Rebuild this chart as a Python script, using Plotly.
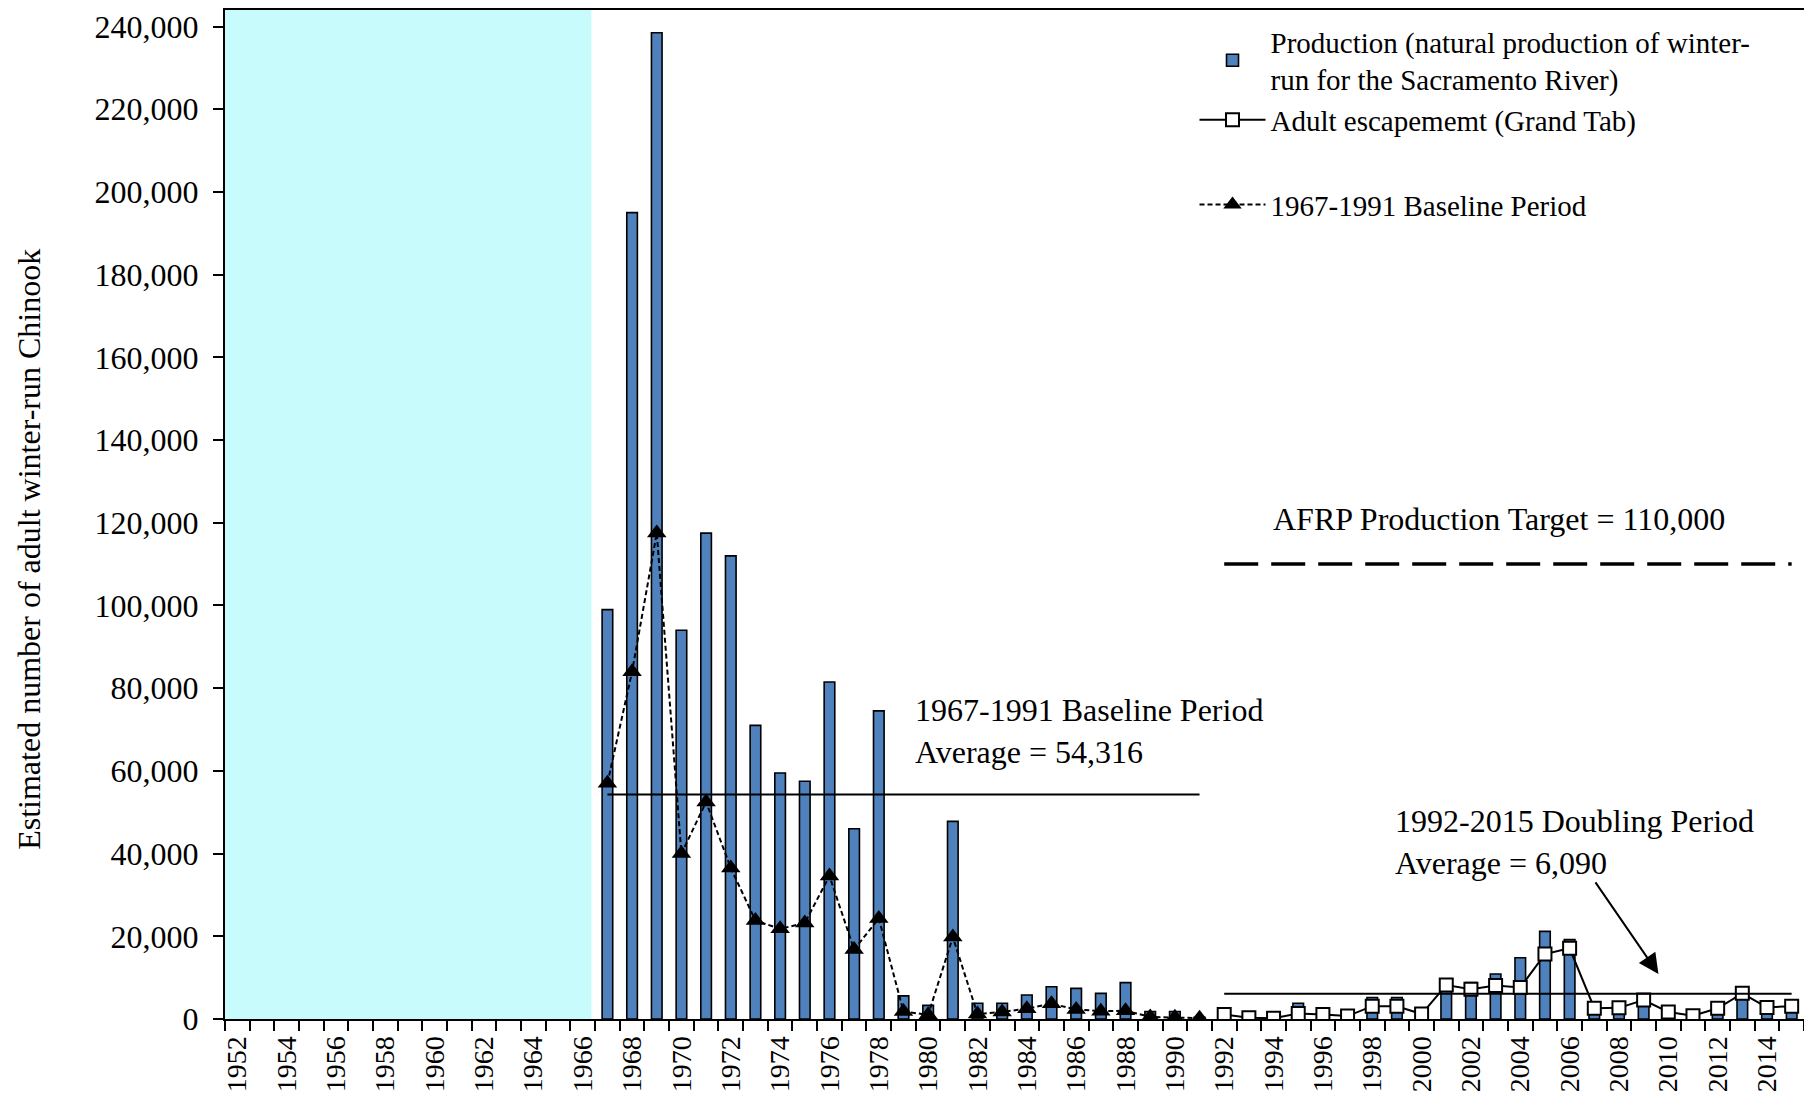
import plotly.graph_objects as go

# ---------------- data ----------------
years = list(range(1952, 2016))
cats = [str(y) for y in years]

prod_years = list(range(1967, 2016))
production = [99000, 195000, 238500, 94000, 117500, 112000, 71000, 59500, 57500, 81500,
              46000, 74500, 5600, 3300, 47800, 3800, 3800, 5800, 7800, 7400,
              6200, 8800, 1800, 1800, 400,
              2600, 400, 300, 3800, 1500, 1000, 5200, 5200, 1400, 9700,
              8800, 10900, 14800, 21200, 19200, 1800, 1600, 4200, 1700, 900,
              1800, 6700, 1600, 2000]

base_years = list(range(1967, 1992))
baseline_escape = [57000, 84000, 117500, 40000, 52500, 36500, 23800, 21800, 23200, 34600,
                   16800, 24300, 1800, 1000, 19800, 1200, 1700, 2500, 3700, 2300,
                   1900, 2000, 500, 400, 200]

dbl_years = list(range(1992, 2016))
adult_escape = [1100, 300, 200, 1300, 1100, 700, 3100, 3100, 1200, 8200,
                7200, 8100, 7600, 15700, 17100, 2600, 2700, 4600, 1700, 800,
                2600, 6200, 2800, 3100]

baseline_avg = 54316
doubling_avg = 6090
afrp_target = 110000
pre_years = list(range(1952, 1967))

FONT = "Liberation Serif, Times New Roman, serif"
FS = 29
FS_BIG = 32

fig = go.Figure()

fig.add_trace(go.Bar(
    x=[str(y) for y in prod_years], y=production,
    name="Production (natural production of winter-<br>run for the Sacramento River)",
    marker=dict(color="#4F81BD", line=dict(color="black", width=1.6)),
    legendgroup="a",
))
fig.add_trace(go.Scatter(
    x=[str(y) for y in dbl_years], y=adult_escape, mode="lines+markers",
    name="Adult escapememt (Grand Tab)",
    line=dict(color="black", width=2),
    marker=dict(symbol="square", size=13, color="white", line=dict(color="black", width=2)),
    legendgroup="a",
))
fig.add_trace(go.Scatter(
    x=[str(y) for y in base_years], y=baseline_escape, mode="lines+markers",
    name="1967-1991 Baseline Period",
    line=dict(color="black", width=2, dash="5px,3px"),
    marker=dict(symbol="triangle-up", size=17, color="black"),
    legendgroup="b",
))
# average lines and target
fig.add_trace(go.Scatter(
    x=[str(base_years[0]), str(base_years[-1])], y=[baseline_avg, baseline_avg],
    mode="lines", line=dict(color="black", width=2), showlegend=False, hoverinfo="skip"))
fig.add_trace(go.Scatter(
    x=[str(dbl_years[0]), str(dbl_years[-1])], y=[doubling_avg, doubling_avg],
    mode="lines", line=dict(color="black", width=2), showlegend=False, hoverinfo="skip"))
fig.add_trace(go.Scatter(
    x=[str(dbl_years[0]), str(dbl_years[-1])], y=[afrp_target, afrp_target],
    mode="lines", line=dict(color="black", width=3.5, dash="34px,13px"),
    showlegend=False, hoverinfo="skip"))

i0 = cats.index(str(pre_years[0]))
i1 = cats.index(str(pre_years[-1]))
fig.add_shape(type="rect", xref="x", yref="paper",
              x0=i0 - 0.5, x1=i1 + 0.35, y0=0, y1=1,
              fillcolor="#C8FCFC", line=dict(width=0), layer="below")

ann_font = dict(family=FONT, size=FS_BIG, color="black")
fig.add_annotation(x=27.4, y=69700, xref="x", yref="y", text="1967-1991 Baseline Period<br>Average = 54,316",
                   showarrow=False, xanchor="left", yanchor="middle", align="left", font=ann_font)
fig.add_annotation(x=46.85, y=42700, xref="x", yref="y", text="1992-2015 Doubling Period<br>Average = 6,090",
                   showarrow=False, xanchor="left", yanchor="middle", align="left", font=ann_font)
fig.add_annotation(x=41.9, y=120900, xref="x", yref="y", text="AFRP Production Target = 110,000",
                   showarrow=False, xanchor="left", yanchor="middle", align="left", font=ann_font)
fig.add_annotation(x=57.6, y=10900, xref="x", yref="y", text="", showarrow=True,
                   ax=-64, ay=-93, arrowhead=2, arrowsize=2, arrowwidth=2, arrowcolor="black")
# y-axis title
fig.add_annotation(x=0, y=0.465, xref="paper", yref="paper", xshift=-196,
                   text="Estimated number of adult winter-run Chinook", textangle=-90,
                   showarrow=False, xanchor="center", yanchor="middle", font=ann_font)

ticktext = [c if int(c) % 2 == 0 else "" for c in cats]

fig.update_layout(
    width=1812, height=1107,
    margin=dict(l=217, r=16, t=2, b=96, autoexpand=False),
    paper_bgcolor="white", plot_bgcolor="white",
    font=dict(family=FONT, size=FS, color="black"),
    bargap=0.57,
    showlegend=True,
    legend=dict(x=0.614, y=0.994, xanchor="left", yanchor="top",
                font=dict(family=FONT, size=FS, color="black"),
                bgcolor="rgba(0,0,0,0)", itemwidth=66, traceorder="grouped",
                tracegroupgap=44),
    xaxis=dict(type="category", categoryorder="array", categoryarray=cats,
               range=[-0.5, len(cats) - 0.5],
               tickmode="array", tickvals=cats, ticktext=ticktext,
               tickson="boundaries", ticks="outside", ticklen=10, tickwidth=2, tickcolor="black",
               tickangle=-90, tickfont=dict(family=FONT, size=28, color="black"),
               ticklabelstandoff=4,
               showline=True, linecolor="black", linewidth=2, mirror=True,
               showgrid=False, zeroline=False, automargin=False),
    yaxis=dict(range=[0, 244000], dtick=20000, tick0=0, tickformat=",",
               ticks="outside", ticklen=10, tickwidth=2, tickcolor="black",
               ticklabelstandoff=8,
               showline=True, linecolor="black", linewidth=2, mirror=True,
               showgrid=False, zeroline=False, automargin=False,
               tickfont=dict(family=FONT, size=FS_BIG, color="black")),
)

fig.write_html("out.html")
